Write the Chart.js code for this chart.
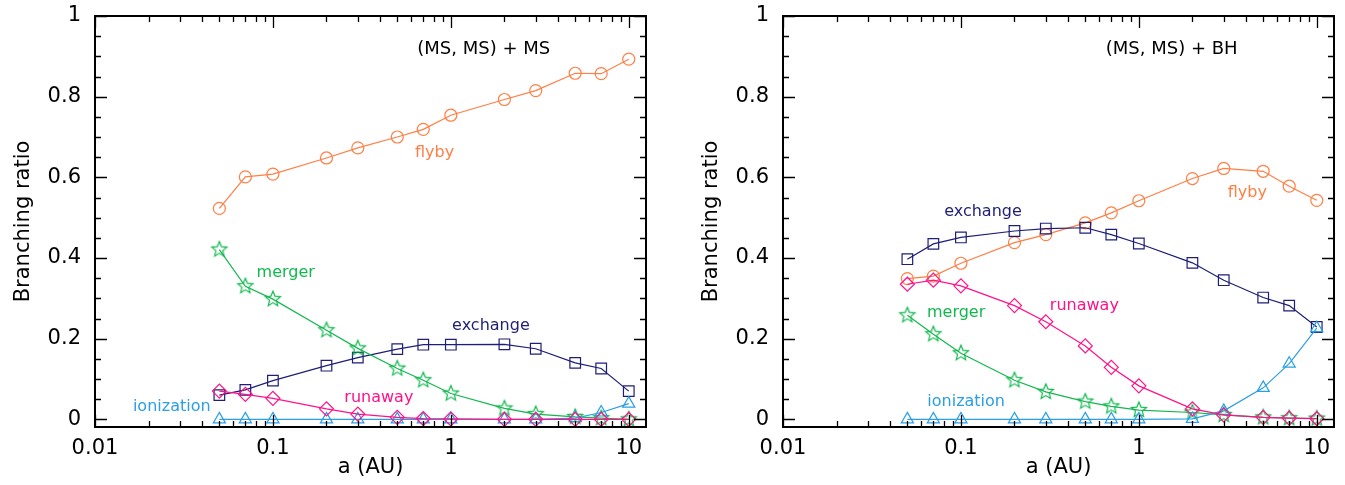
<!DOCTYPE html>
<html>
<head>
<meta charset="utf-8">
<script src="https://cdn.jsdelivr.net/npm/chart.js@4.4.1/dist/chart.umd.min.js"></script>
<style>
  html, body { margin: 0; padding: 0; background: #fff; }
  body { width: 1345px; height: 485px; position: relative; overflow: hidden; }
  canvas { position: absolute; top: 0; }
  #msChart { left: 0; }
  #bhChart { left: 688px; }
</style>
</head>
<body>
<canvas id="msChart" width="672" height="485"></canvas>
<canvas id="bhChart" width="657" height="485"></canvas>
<script>
// semi-major axis of the binary (AU)
const aValues = [0.05, 0.07, 0.1, 0.2, 0.3, 0.5, 0.7, 1, 2, 3, 5, 7, 10];

// (MS, MS) + MS
const msFlyby      = [0.523, 0.601, 0.608, 0.648, 0.673, 0.700, 0.719, 0.754, 0.793, 0.815, 0.858, 0.857, 0.893];
const msMerger     = [0.421, 0.330, 0.298, 0.221, 0.176, 0.126, 0.097, 0.064, 0.027, 0.013, 0.006, 0.003, 0.000];
const msExchange   = [0.060, 0.073, 0.096, 0.133, 0.153, 0.174, 0.185, 0.185, 0.186, 0.175, 0.140, 0.126, 0.070];
const msRunaway    = [0.070, 0.062, 0.052, 0.026, 0.013, 0.005, 0.002, 0.001, 0.000, 0.000, 0.000, 0.000, 0.000];
const msIonization = [0, 0, 0, 0, 0, 0, 0, 0, 0, 0, 0.003, 0.017, 0.039];

// (MS, MS) + BH
const bhFlyby      = [0.349, 0.355, 0.387, 0.438, 0.458, 0.487, 0.512, 0.542, 0.597, 0.622, 0.615, 0.578, 0.543];
const bhMerger     = [0.258, 0.211, 0.164, 0.097, 0.068, 0.044, 0.032, 0.023, 0.017, 0.011, 0.005, 0.003, 0.002];
const bhExchange   = [0.397, 0.435, 0.451, 0.467, 0.473, 0.475, 0.458, 0.436, 0.388, 0.345, 0.302, 0.282, 0.229];
const bhRunaway    = [0.335, 0.345, 0.331, 0.282, 0.242, 0.182, 0.129, 0.083, 0.026, 0.011, 0.005, 0.003, 0.002];
const bhIonization = [0, 0, 0, 0, 0, 0, 0, 0, 0.001, 0.021, 0.078, 0.138, 0.226];

const xTickValues = [0.01, 0.1, 1, 10];
const xTickLabels = ['0.01', '0.1', '1', '10'];
const yTickValues = [0, 0.2, 0.4, 0.6, 0.8, 1];
const yTickLabels = ['0', '0.2', '0.4', '0.6', '0.8', '1'];

// where each channel name sits, in (a, ratio) coordinates
const msTagNames = ['flyby', 'merger', 'exchange', 'runaway', 'ionization'];
const msTagA     = [0.81, 0.118, 1.68, 0.394, 0.027];
const msTagY     = [0.66, 0.362, 0.231, 0.053, 0.030];
const bhTagNames = ['flyby', 'merger', 'exchange', 'runaway', 'ionization'];
const bhTagA     = [4.07, 0.094, 0.133, 0.494, 0.107];
const bhTagY     = [0.561, 0.264, 0.514, 0.281, 0.043];

const colors = {
  flyby: '#ff7f45',
  merger: '#12b84e',
  exchange: '#1e1e78',
  runaway: '#ff1289',
  ionization: '#2a9fe3'
};

const FONT = '"DejaVu Sans", sans-serif';

// hollow five-pointed star used for mergers
function starMarker(color, r) {
  const c = document.createElement('canvas');
  const size = Math.ceil(r * 2 + 4);
  c.width = c.height = size;
  const g = c.getContext('2d');
  g.strokeStyle = color;
  g.lineWidth = 1.2;
  g.beginPath();
  for (let k = 0; k < 10; k++) {
    const rad = k % 2 ? r * 0.45 : r;
    const ang = -Math.PI / 2 + k * Math.PI / 5;
    const px = size / 2 + rad * Math.cos(ang);
    const py = size / 2 + rad * Math.sin(ang);
    if (k) g.lineTo(px, py); else g.moveTo(px, py);
  }
  g.closePath();
  g.stroke();
  return c;
}

// boxed frame with inward ticks on all four sides
const frameTicks = {
  id: 'frameTicks',
  afterDraw(chart) {
    const {ctx, chartArea: a, scales: {x, y}} = chart;
    ctx.save();
    ctx.strokeStyle = '#000';
    ctx.lineWidth = 1.3;
    ctx.beginPath();
    for (let d = -2; d <= 1; d++) {
      for (let m = 1; m <= 9; m++) {
        const v = m * Math.pow(10, d);
        if (v > x.max) continue;
        const px = Math.round(x.getPixelForValue(v)) + 0.5;
        const len = m === 1 ? 12 : 6;
        ctx.moveTo(px, a.bottom); ctx.lineTo(px, a.bottom - len);
        ctx.moveTo(px, a.top); ctx.lineTo(px, a.top + len);
      }
    }
    for (let k = 0; k <= 20; k++) {
      const v = k * 0.05;
      const py = Math.round(y.getPixelForValue(v)) + 0.5;
      const len = k % 4 === 0 ? 12 : 6;
      ctx.moveTo(a.left, py); ctx.lineTo(a.left + len, py);
      ctx.moveTo(a.right, py); ctx.lineTo(a.right - len, py);
    }
    ctx.stroke();
    ctx.lineWidth = 2;
    ctx.strokeRect(a.left, a.top, a.right - a.left, a.bottom - a.top);
    ctx.restore();
  }
};

// channel names and the panel caption
const seriesTags = {
  id: 'seriesTags',
  afterDatasetsDraw(chart, args, opts) {
    const {ctx, scales: {x, y}} = chart;
    ctx.save();
    ctx.textAlign = 'center';
    ctx.textBaseline = 'middle';
    ctx.font = '16px ' + FONT;
    opts.names.forEach((name, i) => {
      ctx.fillStyle = colors[name];
      ctx.fillText(name, x.getPixelForValue(opts.a[i]), y.getPixelForValue(opts.y[i]));
    });
    ctx.fillStyle = '#000';
    ctx.font = '18px ' + FONT;
    ctx.fillText(opts.caption, x.getPixelForValue(1.53), y.getPixelForValue(0.918));
    ctx.restore();
  }
};

function makeSeries(flyby, merger, exchange, runaway, ionization) {
  return [
    {name: 'runaway', values: runaway, marker: 'rectRot', radius: 7},
    {name: 'ionization', values: ionization, marker: 'triangle', radius: 7},
    {name: 'merger', values: merger, marker: starMarker(colors.merger, 8), radius: 8},
    {name: 'exchange', values: exchange, marker: 'rect', radius: 7.5},
    {name: 'flyby', values: flyby, marker: 'circle', radius: 6}
  ];
}

// keep the plot box fixed: no extra room for overhanging tick labels
function noOverhang(s) {
  s.paddingTop = 0;
  s.paddingBottom = 0;
  s.paddingLeft = 0;
  s.paddingRight = 0;
}

function panelConfig(series, tags, rightPad) {
  const font = {family: FONT, size: 21};
  return {
    type: 'line',
    data: {
      datasets: series.map(s => ({
        label: s.name,
        data: aValues.map((a, i) => ({x: a, y: s.values[i]})),
        borderColor: colors[s.name],
        backgroundColor: 'transparent',
        borderWidth: 1.2,
        pointStyle: s.marker,
        pointRadius: s.radius,
        pointBorderWidth: 1.2,
        pointBorderColor: colors[s.name],
        pointBackgroundColor: 'transparent',
        tension: 0
      }))
    },
    options: {
      responsive: false,
      animation: false,
      devicePixelRatio: 1,
      layout: {padding: {left: 0, top: 16, right: rightPad, bottom: 0}},
      plugins: {
        legend: {display: false},
        tooltip: {enabled: false},
        seriesTags: tags
      },
      scales: {
        x: {
          type: 'logarithmic',
          min: 0.01,
          max: 12.5,
          border: {display: false},
          grid: {display: false, drawTicks: false},
          afterBuildTicks: s => { s.ticks = xTickValues.map(v => ({value: v})); },
          afterFit: s => { s.height = 58; noOverhang(s); },
          ticks: {
            callback: (v, i) => xTickLabels[i],
            font, color: '#000', padding: 9, maxRotation: 0, autoSkip: false
          },
          title: {display: true, text: 'a (AU)', font, color: '#000', padding: {top: 0, bottom: 5}}
        },
        y: {
          min: -0.019,
          max: 1,
          border: {display: false},
          grid: {display: false, drawTicks: false},
          afterBuildTicks: s => { s.ticks = yTickValues.map(v => ({value: v})); },
          afterFit: s => { s.width = 95; noOverhang(s); },
          ticks: {
            callback: (v, i) => yTickLabels[i],
            font, color: '#000', padding: 14
          },
          title: {display: true, text: 'Branching ratio', font, color: '#000', padding: {top: 11, bottom: 0}}
        }
      }
    },
    plugins: [frameTicks, seriesTags]
  };
}

new Chart(document.getElementById('msChart'), panelConfig(
  makeSeries(msFlyby, msMerger, msExchange, msRunaway, msIonization),
  {names: msTagNames, a: msTagA, y: msTagY, caption: '(MS, MS) + MS'},
  26
));

new Chart(document.getElementById('bhChart'), panelConfig(
  makeSeries(bhFlyby, bhMerger, bhExchange, bhRunaway, bhIonization),
  {names: bhTagNames, a: bhTagA, y: bhTagY, caption: '(MS, MS) + BH'},
  11
));
</script>
</body>
</html>
